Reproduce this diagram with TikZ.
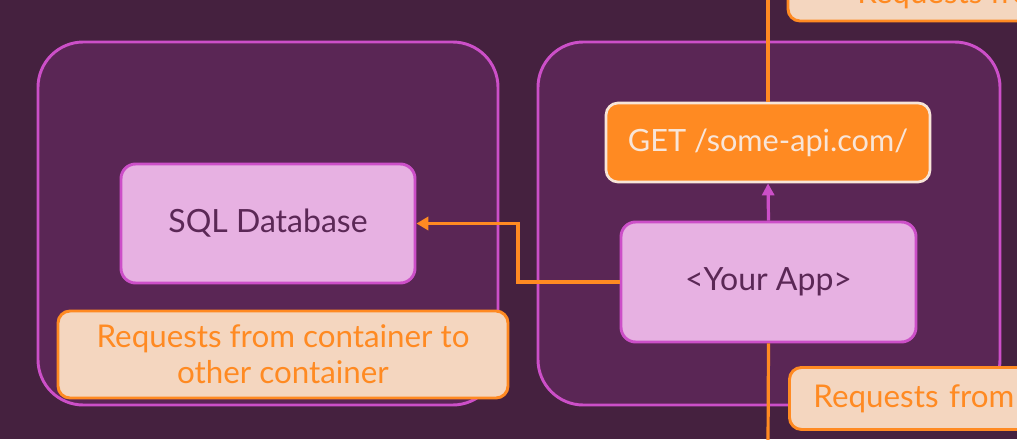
\documentclass[tikz,border=0pt]{standalone}
\usepackage{fontspec}
\setmainfont{Lato}
\usetikzlibrary{arrows.meta}
\definecolor{bgc}{HTML}{45213F}
\definecolor{contfill}{HTML}{5A2655}
\definecolor{magb}{HTML}{CC4FC8}
\definecolor{nodefill}{HTML}{E7B1E2}
\definecolor{nodetext}{HTML}{5B2856}
\definecolor{orng}{HTML}{FF8A22}
\definecolor{lblfill}{HTML}{F4D6BF}
\definecolor{getborder}{HTML}{F8E5D8}
\begin{document}
\begin{tikzpicture}[x=0.75pt,y=-0.75pt,
  container/.style={draw=magb, fill=contfill, line width=2.2pt, rounded corners=34pt},
  appbox/.style={draw=magb, fill=nodefill, line width=2.2pt, rounded corners=11pt, text=nodetext, font=\fontsize{24}{28}\selectfont, inner sep=0pt},
  getbox/.style={draw=getborder, fill=orng, line width=2pt, rounded corners=9pt, text=getborder, font=\fontsize{23}{27}\selectfont, inner sep=0pt},
  lbl/.style={draw=orng, fill=lblfill, line width=2.2pt, rounded corners=9pt, text=orng, font=\fontsize{23.5}{27}\selectfont, inner sep=0pt},
  oline/.style={draw=orng, line width=2.4pt},
  mline/.style={draw=magb, line width=2.4pt}
]
\useasboundingbox (0,0) rectangle (1017,439);
\clip (0,0) rectangle (1017,439);
\fill[bgc] (0,0) rectangle (1017,439);

% containers
\draw[container] (38,42) rectangle (498,405);
\draw[container] (538,42) rectangle (1000,405);

% top-right label (clipped)
\draw[lbl] (788,-60) rectangle (1100,21);
\node[anchor=base west, text=orng, font=\fontsize{23.5}{27}\selectfont, inner sep=0pt] (toplbl) at (857,3) {Requests from};

% nodes
\node[appbox, minimum width=294*0.75pt, minimum height=119*0.75pt] (sql) at (268,223.5) {SQL Database};
\node[appbox, minimum width=295*0.75pt, minimum height=120*0.75pt] (app) at (768.5,282) {<Your App>};
\node[getbox, minimum width=324*0.75pt, minimum height=79*0.75pt] (get) at (768,142.5) {GET /some-api.com/};

% connectors
\coordinate (topend) at (768,-5);
\coordinate (botend) at (768,445);
\coordinate (bend) at (518,282);
\draw[oline] (get.north) -- (topend);
\draw[oline] (app.south) -- (botend);
\draw[mline, -{Triangle[length=9pt,width=9pt]}] (app.north) -- (get.south);
\draw[oline, -{Triangle[length=9pt,width=10pt]}] (app.west) -- (bend) |- (sql.east);

% labels
\node[lbl, minimum width=450*0.75pt, minimum height=87*0.75pt, align=center] (lblleft) at (283,354.5) {Requests from container to\\other container};
\node[lbl, anchor=north west, minimum width=320*0.75pt, minimum height=62*0.75pt, text width=296*0.75pt, inner xsep=24*0.75pt, align=left] (lblright) at (788,366) {Requests from};
\end{tikzpicture}
\end{document}
